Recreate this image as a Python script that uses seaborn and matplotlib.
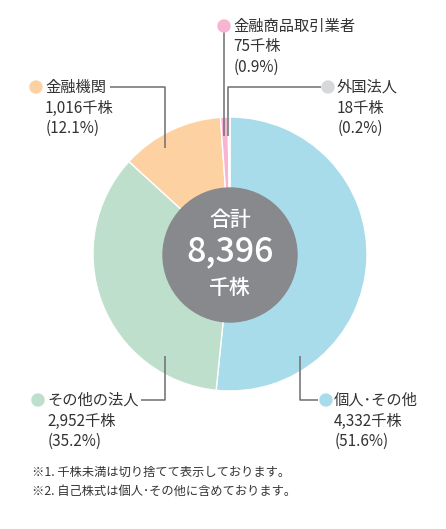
import matplotlib
matplotlib.use("Agg")
import matplotlib.pyplot as plt
from matplotlib.patches import Circle
import seaborn as sns

# ---- data ----
categories = ["個人･その他", "その他の法人", "金融機関", "金融商品取引業者", "外国法人"]
values_k = [4332, 2952, 1016, 75, 18]          # 千株
value_labels = ["4,332千株", "2,952千株", "1,016千株", "75千株", "18千株"]
pct_labels = ["(51.6%)", "(35.2%)", "(12.1%)", "(0.9%)", "(0.2%)"]
colors = ["#A9DCEB", "#BEDFCB", "#FDD1A2", "#F8B4D3", "#D7D8DA"]
total_label = "8,396"
notes = ["※1. 千株未満は切り捨てて表示しております。",
         "※2. 自己株式は個人･その他に含めております。"]

sns.set_theme(style="white")
plt.rcParams['font.family'] = ['Noto Sans CJK JP', 'DejaVu Sans']

W, H = 446, 529
fig = plt.figure(figsize=(W / 100, H / 100), dpi=100)
ax = fig.add_axes([0, 0, 1, 1])

def Y(y):
    return H - y

cx, cy, R = 230, 254, 137
ax.pie(values_k, colors=colors, startangle=90, counterclock=False,
       center=(cx, Y(cy)), radius=R,
       wedgeprops=dict(edgecolor="white", linewidth=1.0))
ax.set_xlim(0, W)
ax.set_ylim(0, H)
ax.set_aspect("equal")
ax.axis("off")

# center circle
ax.add_patch(Circle((cx, Y(255)), 67, color="#88898D", zorder=5))
ax.text(cx, Y(220), "合計", color="white", fontsize=15, fontweight="medium",
        ha="center", va="center", zorder=6)
ax.text(cx, Y(252), total_label, color="white", fontsize=24.5, fontweight="medium",
        ha="center", va="center", zorder=6)
ax.text(cx, Y(288), "千株", color="white", fontsize=15, fontweight="medium",
        ha="center", va="center", zorder=6)

line_c = "#6E6E70"
text_c = "#333333"
# label layout: dot position, text x, leader polyline
layout = [
    dict(dot=(326, 400), tx=334, path=[(318, 400), (300, 400), (300, 356)]),
    dict(dot=(38, 400), tx=47, path=[(141, 400), (165, 400), (165, 356)]),
    dict(dot=(36, 87), tx=45, path=[(110, 87), (165, 87), (165, 148)]),
    dict(dot=(224, 26), tx=233, path=[(224, 32), (224, 136)]),
    dict(dot=(328, 87), tx=337, path=[(321, 87), (228, 87), (228, 136)]),
]

fs = 11
for i, lay in enumerate(layout):
    dx, dy = lay["dot"]
    xs = [p[0] for p in lay["path"]]
    ys = [Y(p[1]) for p in lay["path"]]
    ax.plot(xs, ys, color=line_c, lw=1.1, zorder=7, solid_capstyle="butt")
    ax.add_patch(Circle((dx, Y(dy)), 6, color=colors[i], zorder=8))
    tx = lay["tx"]
    ax.text(tx, Y(dy), categories[i], color=text_c, fontsize=fs, ha="left", va="center")
    ax.text(tx, Y(dy + 21), value_labels[i], color=text_c, fontsize=fs, ha="left", va="center")
    ax.text(tx + 1, Y(dy + 41), pct_labels[i], color=text_c, fontsize=fs, ha="left", va="center")

ax.text(32, Y(472), notes[0], color=text_c, fontsize=8.8, ha="left", va="center")
ax.text(32, Y(491), notes[1], color=text_c, fontsize=8.8, ha="left", va="center")

fig.savefig("out.png", dpi=100)
